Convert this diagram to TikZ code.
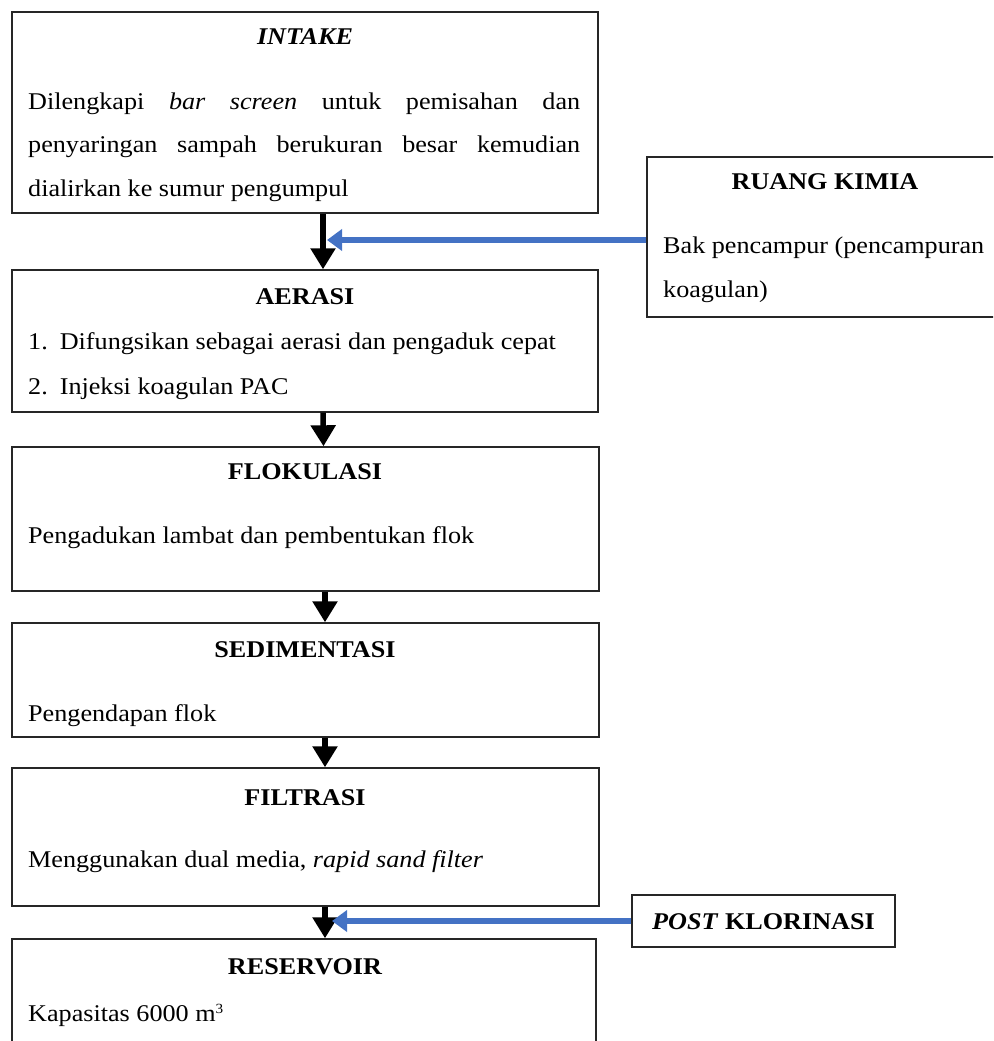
\documentclass[tikz,border=0pt]{standalone}
\usepackage{fontspec}
\setmainfont{Liberation Serif}[FakeStretch=1.09]
\usetikzlibrary{arrows.meta}
\definecolor{flowblue}{RGB}{68,114,196}
\tikzset{
  box/.style={draw=black!85, line width=1.4pt, rectangle, inner sep=0pt},
  ttl/.style={anchor=base, font=\fontsize{24}{28}\selectfont\bfseries, inner sep=0pt},
  txt/.style={anchor=base west, font=\fontsize{24}{28}\selectfont, inner sep=0pt},
  flow/.style={line width=5.5pt, -{Triangle[length=21pt,width=24pt]}},
  feed/.style={draw=flowblue, line width=5.5pt, -{Triangle[length=15pt,width=21pt]}}
}
\begin{document}
\begin{tikzpicture}[x=1pt,y=-1pt]
\useasboundingbox (0,0) rectangle (993,1041);
\clip (0,0) rectangle (993,1041);
% boxes
\node[box, minimum width=586pt, minimum height=201pt] (intake) at (305,112.5) {};
\node[box, minimum width=350pt, minimum height=160pt] (kimia) at (822,237) {};
\node[box, minimum width=586pt, minimum height=142pt] (aerasi) at (305,341) {};
\node[box, minimum width=587pt, minimum height=144pt] (flok) at (305.5,519) {};
\node[box, minimum width=587pt, minimum height=114pt] (sedi) at (305.5,680) {};
\node[box, minimum width=587pt, minimum height=138pt] (filt) at (305.5,837) {};
\node[box, minimum width=584pt, minimum height=140pt] (resv) at (304,1009) {};
\node[box, minimum width=263pt, minimum height=52pt] (post) at (763.5,921) {};
% texts
\node[ttl, font=\fontsize{24}{28}\selectfont\bfseries\itshape] (t1) at (305,45) {INTAKE};
\node[txt] (t1a) at (28,109) {\makebox[552pt][s]{Dilengkapi \textit{bar} \textit{screen} untuk pemisahan dan}};
\node[txt] (t1b) at (28,152) {\makebox[552pt][s]{penyaringan sampah berukuran besar kemudian}};
\node[txt] (t1c) at (28,196) {dialirkan ke sumur pengumpul};
\node[ttl] (t2) at (825,189) {RUANG KIMIA};
\node[txt] (t2a) at (663,253) {Bak pencampur (pencampuran};
\node[txt] (t2b) at (663,297) {koagulan)};
\node[ttl] (t3) at (305,304) {AERASI};
\node[txt] (t3a) at (28,349) {1.\hspace{12pt}Difungsikan sebagai aerasi dan pengaduk cepat};
\node[txt] (t3b) at (28,394) {2.\hspace{12pt}Injeksi koagulan PAC};
\node[ttl] (t4) at (305,479) {FLOKULASI};
\node[txt] (t4a) at (28,543) {Pengadukan lambat dan pembentukan flok};
\node[ttl] (t5) at (305,657) {SEDIMENTASI};
\node[txt] (t5a) at (28,721) {Pengendapan flok};
\node[ttl] (t6) at (305,805) {FILTRASI};
\node[txt] (t6a) at (28,867) {Menggunakan dual media, \textit{rapid sand filter}};
\node[ttl] (t7) at (305,974) {RESERVOIR};
\node[txt] (t7a) at (28,1021) {Kapasitas 6000 m\raisebox{8pt}{\fontsize{14}{14}\selectfont 3}};
\node[ttl] (t8) at (763.5,929) {\textit{POST} KLORINASI};
% connectors
\draw[flow] ([xshift=18pt]intake.south) -- ([xshift=18pt]aerasi.north);
\draw[flow] ([xshift=18pt]aerasi.south) -- ([xshift=18pt]flok.north);
\draw[flow] ([xshift=19.5pt]flok.south) -- ([xshift=19.5pt]sedi.north);
\draw[flow] ([xshift=19.5pt]sedi.south) -- ([xshift=19.5pt]filt.north);
\draw[flow] ([xshift=19.5pt]filt.south) -- ([xshift=21pt]resv.north);
\coordinate (j1) at (327,240);
\coordinate (j2) at (332,921);
\draw[feed] (kimia.west |- j1) -- (j1);
\draw[feed] (post.west) -- (j2);
\end{tikzpicture}
\end{document}
